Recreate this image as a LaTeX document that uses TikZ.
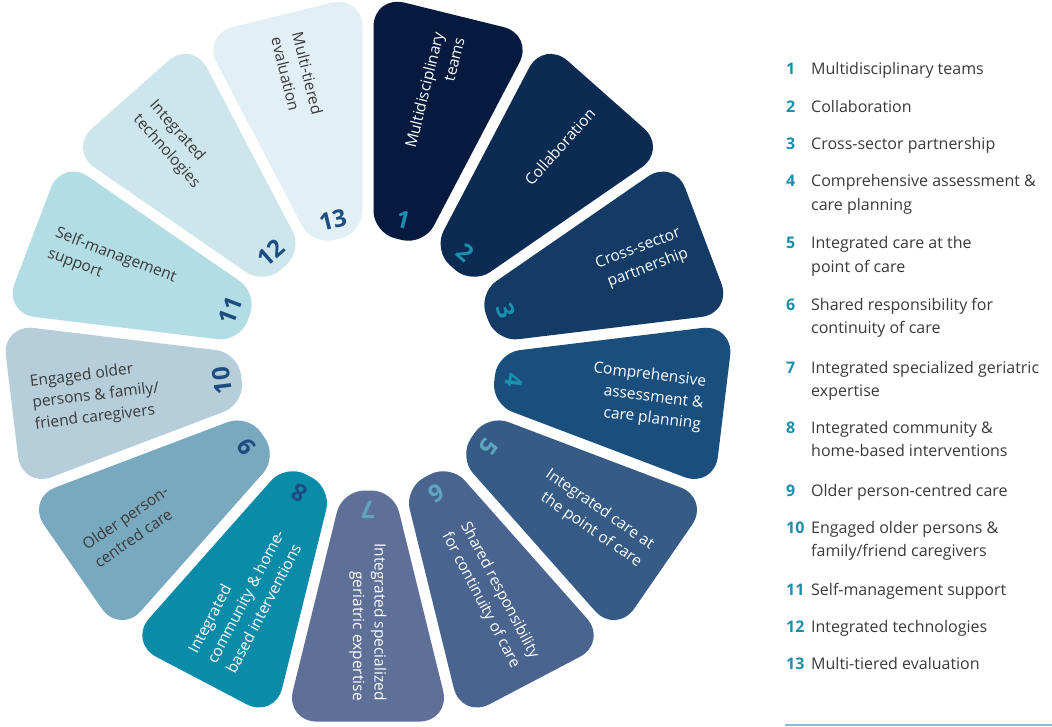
\documentclass[tikz,border=0pt]{standalone}
\usepackage{fontspec}
\setmainfont{Open Sans}
\usetikzlibrary{calc}
\definecolor{p1}{HTML}{061A3F}
\definecolor{p2}{HTML}{0C2B53}
\definecolor{p3}{HTML}{133B65}
\definecolor{p4}{HTML}{1A4F7D}
\definecolor{p5}{HTML}{355B86}
\definecolor{p6}{HTML}{4A6490}
\definecolor{p7}{HTML}{5E6F98}
\definecolor{p8}{HTML}{0A8BA7}
\definecolor{p9}{HTML}{78A9BF}
\definecolor{p10}{HTML}{B6CEDA}
\definecolor{p11}{HTML}{B2DDE4}
\definecolor{p12}{HTML}{CDE6EB}
\definecolor{p13}{HTML}{E2EFF4}
\definecolor{nteal}{HTML}{1B8FAE}
\definecolor{nlight}{HTML}{5EA6C0}
\definecolor{ndark}{HTML}{1C4C80}
\definecolor{dtext}{HTML}{3A3A3A}
\definecolor{legteal}{HTML}{1B8EAB}
\definecolor{rulecol}{HTML}{8CBCD2}
\newcommand\twoline[2]{\vtop{\hbox{#1}\hbox{#2}}}
\begin{document}
\begin{tikzpicture}[x=1pt,y=1pt,
  petaltext/.style={font=\fontsize{15.5}{21.5}\selectfont, inner sep=0pt},
  petalnum/.style={font=\fontsize{24}{24}\selectfont\bfseries, inner sep=0pt},
  legnum/.style={font=\fontsize{16}{23.5}\selectfont\bfseries, text=legteal, anchor=base west, inner sep=0pt},
  legtext/.style={font=\fontsize{16}{23.5}\selectfont, text=dtext, anchor=base west, inner sep=0pt}]
\useasboundingbox (0,0) rectangle (1052,-727);
\coordinate (C) at (368,-363);
\def\rone{130}
\def\rtwo{368}
\def\h{13.846}
\def\g{5.5}
\foreach \k/\col/\ncol/\tcol/\txt in {
 1/p1/nteal/white/{Multidisciplinary\\teams},
 2/p2/nteal/white/{Collaboration},
 3/p3/nteal/white/{Cross-sector\\partnership},
 4/p4/nteal/white/{Comprehensive\\assessment \&\\care planning},
 5/p5/nlight/white/{Integrated care at\\the point of care},
 6/p6/nlight/white/{Shared responsibility\\for continuity of care},
 7/p7/nlight/white/{Integrated specialized\\geriatric expertise},
 8/p8/ndark/white/{Integrated\\community \& home-\\based interventions},
 9/p9/ndark/dtext/{Older person-\\centred care},
 10/p10/ndark/dtext/{Engaged older\\persons \& family/\\friend caregivers},
 11/p11/ndark/dtext/{Self-management\\support},
 12/p12/ndark/dtext/{Integrated\\technologies},
 13/p13/ndark/dtext/{Multi-tiered\\evaluation}}{
  \pgfmathsetmacro\a{76.1538-(\k-1)*27.6923}
  \coordinate (OL) at ($(C)+(\a+\h:\rtwo)+(\a+\h-90:\g)$);
  \coordinate (IL) at ($(C)+(\a+\h:\rone)+(\a+\h-90:\g)$);
  \coordinate (OR) at ($(C)+(\a-\h:\rtwo)+(\a-\h+90:\g)$);
  \coordinate (IR) at ($(C)+(\a-\h:\rone)+(\a-\h+90:\g)$);
  \coordinate (M) at ($(OL)!0.5!(OR)$);
  \coordinate (SR) at ($(OR)!0.5!(IR)$);
  \coordinate (SL) at ($(IL)!0.5!(OL)$);
  \fill[\col] (M) [rounded corners=32pt] -- (OR) -- (SR) [rounded corners=22pt] -- (IR) -- (IL) -- (SL) [rounded corners=32pt] -- (OL) -- cycle;
  \node[petalnum, text=\ncol, rotate=\a-90] (n\k) at ($(C)+(\a:147)$) {\k};
  \ifnum\k<8
    \node[petaltext, text=\tcol, rotate=\a, anchor=east, align=right] (t\k) at ($(C)+(\a:338)$) {\txt};
  \else
    \pgfmathsetmacro\b{\a+180}
    \node[petaltext, text=\tcol, rotate=\b, anchor=west, align=left] (t\k) at ($(C)+(\a:338)$) {\txt};
  \fi
}
\foreach \k/\y/\txt in {
 1/75/{Multidisciplinary teams},
 2/113/{Collaboration},
 3/150/{Cross-sector partnership},
 4/187/{\twoline{Comprehensive assessment \&}{care planning}},
 5/249/{\twoline{Integrated care at the}{point of care}},
 6/310/{\twoline{Shared responsibility for}{continuity of care}},
 7/373/{\twoline{Integrated specialized geriatric}{expertise}},
 8/433/{\twoline{Integrated community \&}{home-based interventions}},
 9/496/{Older person-centred care},
 10/533/{\twoline{Engaged older persons \&}{family/friend caregivers}},
 11/595/{Self-management support},
 12/632/{Integrated technologies},
 13/669/{Multi-tiered evaluation}}{
  \node[legnum] (ln\k) at (786,-\y) {\k};
  \node[legtext] (lt\k) at (811,-\y) {\txt};
}
\coordinate (ra) at (785,-725);
\coordinate (rb) at (1052,-725);
\draw[rulecol, line width=1.2pt] (ra) -- (rb);
\end{tikzpicture}
\end{document}
